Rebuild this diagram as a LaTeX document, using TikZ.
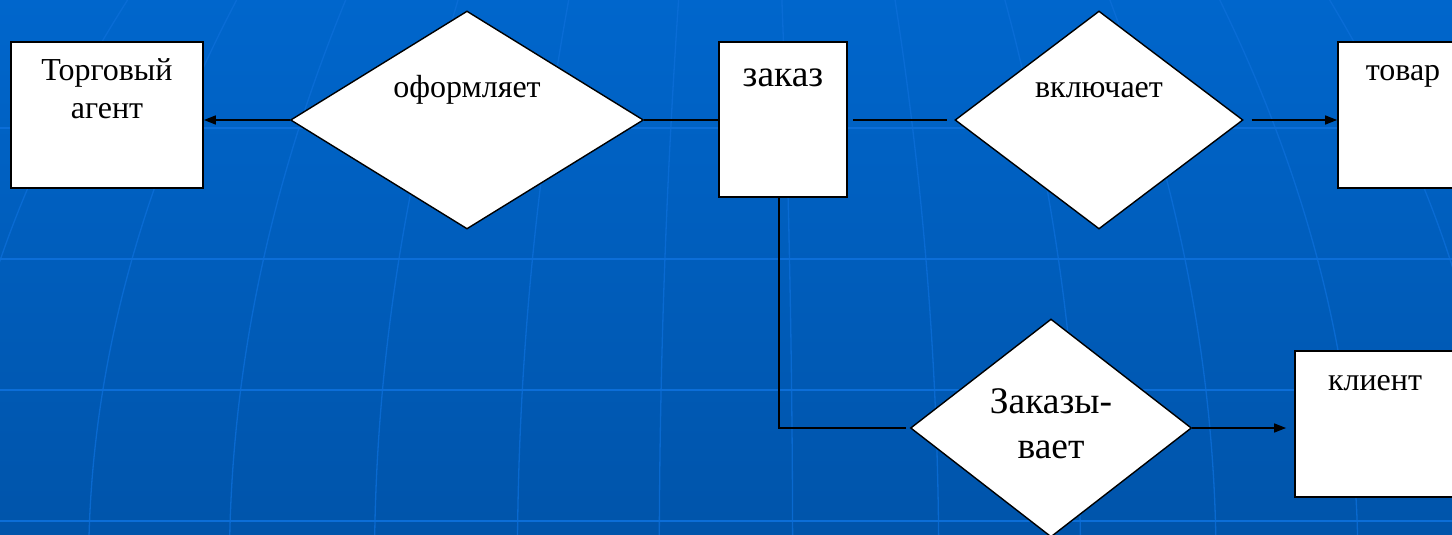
\documentclass[tikz,border=0pt]{standalone}
\usepackage{fontspec}
\setmainfont{Liberation Serif}
\usetikzlibrary{shapes.geometric,arrows.meta}
\definecolor{bgtop}{RGB}{0,102,204}
\definecolor{bgbot}{RGB}{0,84,170}
\definecolor{gridc}{RGB}{12,110,216}
\begin{document}
\begin{tikzpicture}[x=1pt,y=-1pt,
  entity/.style={draw=black,line width=1.8pt,fill=white,rectangle,inner sep=0pt},
  rel/.style={draw=black,line width=1.4pt,fill=white,diamond,inner sep=0pt},
  conn/.style={line width=1.5pt,black},
  arr/.style={conn,-{Triangle[length=12pt,width=9pt]}},
  lbl/.style={inner sep=0pt,anchor=base,font=\fontsize{32}{38}\selectfont},
  biglbl/.style={lbl,font=\fontsize{37.5}{45}\selectfont},
  gridline/.style={draw=gridc}]
\useasboundingbox (0,0) rectangle (1452,535);
\clip (0,0) rectangle (1452,535);
% background
\shade[top color=bgtop,bottom color=bgbot] (0,0) rectangle (1452,535);
\foreach \h in {128,259,390,521}
  \draw[gridline,line width=2.2pt] (0,\h) -- (1452,\h);
\foreach \m in {-8,125,258,395,530,664,790,928,1062,1190,1324,1458}
  \draw[gridline,line width=1.3pt,opacity=0.8] plot[domain=0:535,samples=30,variable=\t,smooth]
    ({745+(\m-745)*(1+0.04187*((\t-285)/100)-0.00747*((\t-285)/100)*((\t-285)/100))},\t);
% entities
\node[entity,minimum width=192pt,minimum height=146pt] (agent) at (107,115) {};
\node[lbl] (agentT1) at (107,81) {Торговый};
\node[lbl] (agentT2) at (107,118) {агент};
\node[entity,minimum width=128pt,minimum height=155pt] (order) at (783,119.5) {};
\node[biglbl] (orderT) at (783,87) {заказ};
\node[entity,minimum width=130pt,minimum height=146pt] (goods) at (1403,115) {};
\node[lbl] (goodsT) at (1403,81) {товар};
\node[entity,minimum width=170pt,minimum height=146pt] (client) at (1380,424) {};
\node[lbl] (clientT) at (1375,390) {клиент};
% relationships
\node[rel,minimum width=353pt,minimum height=218pt] (r1) at (467,120) {};
\node[lbl] (r1T) at (467,98) {оформляет};
\node[rel,minimum width=288pt,minimum height=218pt] (r2) at (1099,120) {};
\node[lbl] (r2T) at (1099,97) {включает};
\node[rel,minimum width=281pt,minimum height=218pt] (r3) at (1051,428) {};
\node[biglbl] (r3T1) at (1051,413) {Заказы-};
\node[biglbl] (r3T2) at (1051,458) {вает};
% connectors
\draw[arr] (r1.west) -- (r1.west -| agent.east);
\draw[conn] (r1.east) -- (r1.east -| order.west);
\draw[conn,shorten <=5pt,shorten >=7pt] (r2.west -| order.east) -- (r2.west);
\draw[arr,shorten <=8pt] (r2.east) -- (r2.east -| goods.west);
\draw[conn,shorten >=4pt] ([xshift=-4pt]order.south) |- (r3.west);
\draw[arr,shorten >=8pt] (r3.east) -- (r3.east -| client.west);
\end{tikzpicture}
\end{document}
